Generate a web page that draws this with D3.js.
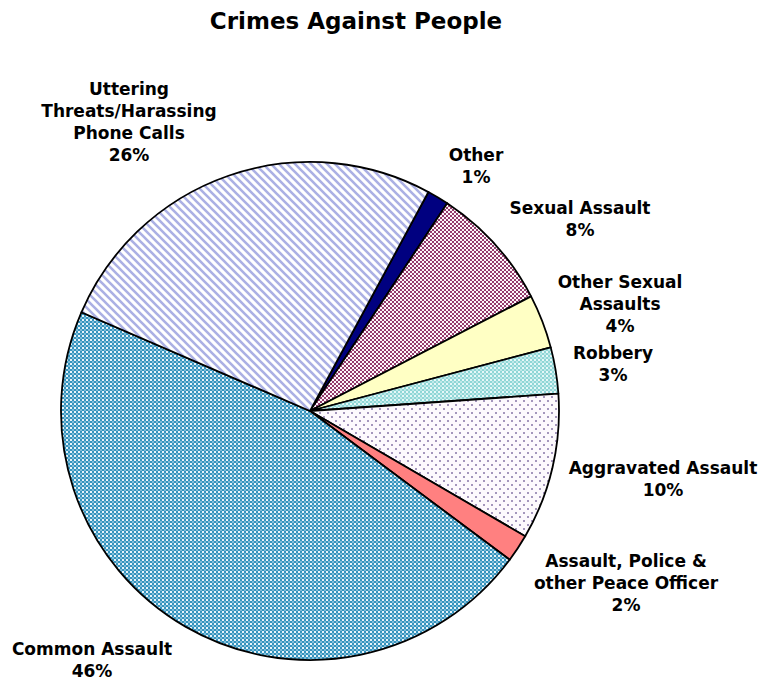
<!DOCTYPE html>
<html><head><meta charset="utf-8">
<script src="https://cdn.jsdelivr.net/npm/d3@7"></script>
<style>html,body{margin:0;padding:0;background:#fff;}svg{display:block;}</style>
</head><body>
<svg id="chart" width="775" height="681"></svg>
<script>
const categories = ["Other", "Sexual Assault", "Other Sexual Assaults", "Robbery", "Aggravated Assault", "Assault, Police & other Peace Officer", "Common Assault", "Uttering Threats/Harassing Phone Calls"];
const values = [1.4, 8.1, 3.5, 3.0, 9.5, 1.8, 46.3, 26.4];
const labelLines = [["Other"], ["Sexual Assault"], ["Other Sexual", "Assaults"], ["Robbery"], ["Aggravated Assault"], ["Assault, Police &", "other Peace Officer"], ["Common Assault"], ["Uttering", "Threats/Harassing", "Phone Calls"]];
const labelPos = [[476,161],[580,214],[620,288],[613,359],[663,474],[626,567],[92,655],[129,95]];
const fills = ["#000080","url(#pSex)","#ffffc4","url(#pRob)","url(#pAgg)","#ff8080","url(#pCom)","url(#pUtt)"];

const svg = d3.select("#chart");
const defs = svg.append("defs");

// patterns
const pU = defs.append("pattern").attr("id","pUtt").attr("patternUnits","userSpaceOnUse").attr("width",8).attr("height",8);
pU.append("rect").attr("width",8).attr("height",8).attr("fill","#fff");
pU.append("path").attr("d","M-1,-1L9,9M-3,5L3,11M5,-3L11,3").attr("stroke","#abb0e4").attr("stroke-width",2.6);

const pS = defs.append("pattern").attr("id","pSex").attr("patternUnits","userSpaceOnUse").attr("width",4).attr("height",4);
pS.append("rect").attr("width",4).attr("height",4).attr("fill","#fdf6fa");
pS.append("rect").attr("x",0).attr("y",0).attr("width",2).attr("height",2).attr("fill","#933a6c");
pS.append("rect").attr("x",2).attr("y",2).attr("width",2).attr("height",2).attr("fill","#933a6c");

const pR = defs.append("pattern").attr("id","pRob").attr("patternUnits","userSpaceOnUse").attr("width",4).attr("height",4);
pR.append("rect").attr("width",4).attr("height",4).attr("fill","#8fd6d6");
pR.append("rect").attr("x",0).attr("y",0).attr("width",2).attr("height",2).attr("fill","#e6f8f8");
pR.append("rect").attr("x",2).attr("y",2).attr("width",2).attr("height",2).attr("fill","#bfe9e9");

const pA = defs.append("pattern").attr("id","pAgg").attr("patternUnits","userSpaceOnUse").attr("width",8).attr("height",8);
pA.append("rect").attr("width",8).attr("height",8).attr("fill","#fdf9fd");
pA.append("rect").attr("x",1).attr("y",1).attr("width",2).attr("height",2).attr("fill","#a496bc");
pA.append("rect").attr("x",5).attr("y",5).attr("width",2).attr("height",2).attr("fill","#a496bc");

const pC = defs.append("pattern").attr("id","pCom").attr("patternUnits","userSpaceOnUse").attr("width",4).attr("height",4);
pC.append("rect").attr("width",4).attr("height",4).attr("fill","#3493bd");
pC.append("rect").attr("x",0).attr("y",0).attr("width",2).attr("height",2).attr("fill","#e8f4fa");
pC.append("rect").attr("x",2).attr("y",2).attr("width",2).attr("height",2).attr("fill","#7fbcd8");

// title
svg.append("text").attr("x",356).attr("y",29).attr("text-anchor","middle")
  .attr("font-family","DejaVu Sans").attr("font-weight","bold").attr("font-size",23)
  .attr("fill","#000").text("Crimes Against People");

const cx = 310, cy = 411, r = 249;
const start = 28.4 * Math.PI / 180;
const pie = d3.pie().sort(null).value(d => d).startAngle(start).endAngle(start + 2*Math.PI);
const arcs = pie(values);
const arc = d3.arc().innerRadius(0).outerRadius(r);

const g = svg.append("g").attr("transform", `translate(${cx},${cy})`);
g.selectAll("path.slice").data(arcs).enter().append("path")
  .attr("class","slice")
  .attr("d", arc)
  .attr("fill", (d,i) => fills[i])
  .attr("stroke", "#000").attr("stroke-width", 1.8).attr("stroke-linejoin","round");

// labels
const lg = svg.append("g").attr("font-family","DejaVu Sans").attr("font-weight","bold").attr("font-size",17).attr("fill","#000");
arcs.forEach((d,i) => {
  const lines = labelLines[i].concat([Math.round(values[i]) + "%"]);
  const t = lg.append("text").attr("text-anchor","middle")
    .attr("x", labelPos[i][0]).attr("y", labelPos[i][1]);
  lines.forEach((ln,j) => {
    t.append("tspan").attr("x", labelPos[i][0]).attr("dy", j===0 ? 0 : 22).text(ln);
  });
});
</script>
</body></html>
